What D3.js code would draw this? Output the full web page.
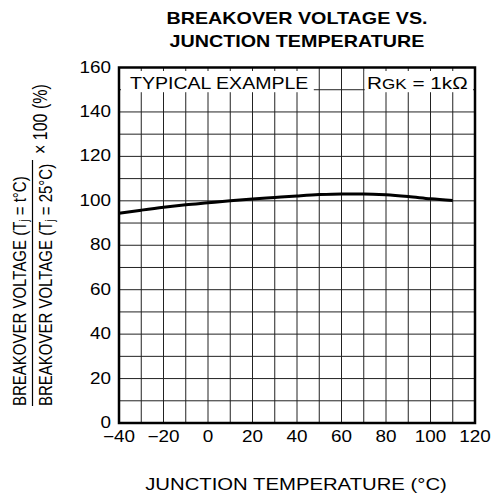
<!DOCTYPE html>
<html><head><meta charset="utf-8">
<script src="https://cdn.jsdelivr.net/npm/d3@7"></script>
<style>
html,body{margin:0;padding:0;background:#fff;}
text{font-family:"Liberation Sans",Arial,Helvetica,sans-serif;fill:#000;}
</style></head>
<body>
<svg id="chart" width="493" height="496"></svg>
<script>
// ---- data ----
const temperatures = [-40,-30,-20,-10,0,10,20,30,40,50,60,70,80,90,100,110];
const breakoverPct = [94.4,95.8,97.1,98.2,99.1,100.0,100.8,101.5,102.2,102.8,103.1,103.1,102.7,101.9,100.9,100.1];
const xTicks = [-40,-20,0,20,40,60,80,100,120];
const yTicks = [0,20,40,60,80,100,120,140,160];
const xGrid = d3.range(-40,121,10);
const yGrid = d3.range(0,161,10);
const titleLines = ["BREAKOVER VOLTAGE VS.","JUNCTION TEMPERATURE"];
const xTitle = "JUNCTION TEMPERATURE  (°C)";
const legendLeft = "TYPICAL EXAMPLE";

const svg = d3.select("#chart");
const L=119, R=475, T=67.5, B=423;
const x = d3.scaleLinear().domain([-40,120]).range([L,R]);
const y = d3.scaleLinear().domain([0,160]).range([B,T]);

function stext(g, px, py, sx, txt, size, anchor, weight){
  const t = g.append("text")
    .attr("transform",`translate(${px},${py}) scale(${sx},1)`)
    .attr("text-anchor",anchor||"middle")
    .style("font-size",size+"px")
    .style("font-weight",weight||"normal")
    .text(txt);
  return t;
}

// grid
const grid = svg.append("g").attr("stroke","#222").attr("stroke-width",1);
grid.selectAll("line.v").data(xGrid).join("line")
  .attr("x1",d=>x(d)).attr("x2",d=>x(d)).attr("y1",T).attr("y2",B);
grid.selectAll("line.h").data(yGrid).join("line")
  .attr("y1",d=>y(d)).attr("y2",d=>y(d)).attr("x1",L).attr("x2",R);

// legend boxes (white background covering top row)
const leg = svg.append("g");
leg.append("rect").attr("x",L+2).attr("y",T+3.5).attr("width",x(48)-L-2-1).attr("height",y(150)-T-1).attr("fill","#fff");
leg.append("rect").attr("x",x(70)+1).attr("y",T+3.5).attr("width",R-x(70)-3).attr("height",y(150)-T-1).attr("fill","#fff");
stext(leg, 130, 89, 1.15, legendLeft, 17, "start");
const rg = leg.append("text")
  .attr("transform",`translate(367,89) scale(1.22,1)`)
  .attr("text-anchor","start").style("font-size","17px");
rg.append("tspan").text("R");
rg.append("tspan").style("font-size","14px").text("GK");
rg.append("tspan").text(" = 1kΩ");

// curve
const line = d3.line().x(d=>x(d[0])).y(d=>y(d[1])).curve(d3.curveMonotoneX);
svg.append("path").datum(temperatures.map((t,i)=>[t,breakoverPct[i]]))
  .attr("d",line).attr("fill","none").attr("stroke","#000").attr("stroke-width",3);

// frame
svg.append("rect").attr("x",L).attr("y",T).attr("width",R-L).attr("height",B-T)
  .attr("fill","none").attr("stroke","#000").attr("stroke-width",2.5);

// tick labels
const tl = svg.append("g");
xTicks.forEach(v=>{
  stext(tl, x(v), 442, 1.18, v<0 ? "\u2212"+Math.abs(v) : String(v), 16, "middle");
});
yTicks.forEach(v=>{
  stext(tl, 111, y(v)+5, 1.18, String(v), 16, "end");
});

// title
titleLines.forEach((s,i)=>{
  stext(svg, 297, 24+i*23, 1.16, s, 17, "middle", "bold");
});

// x title
stext(svg, 296, 490, 1.27, xTitle, 16, "middle");

// y label (rotated fraction)
const yl = svg.append("g");
function rtext(px, py, anchor, size){
  const t = yl.append("text").attr("transform",`translate(${px},${py}) scale(1.22,1) rotate(-90)`)
    .attr("text-anchor",anchor).style("font-size",(size||15)+"px");
  return t;
}
const num = rtext(26, 406, "start");
num.append("tspan").text("BREAKOVER VOLTAGE (T");
num.append("tspan").attr("dy",2).style("font-size","10px").text("j");
num.append("tspan").attr("dy",-2).text(" = t°C)");
const den = rtext(52, 406, "start");
den.append("tspan").text("BREAKOVER VOLTAGE (T");
den.append("tspan").attr("dy",2).style("font-size","10px").text("j");
den.append("tspan").attr("dy",-2).text(" = 25°C)");
yl.append("line").attr("x1",32.5).attr("x2",32.5).attr("y1",406).attr("y2",160)
  .attr("stroke","#000").attr("stroke-width",1.2);
const pct = rtext(47, 154, "start", 16);
pct.text("× 100 (%)");
</script>
</body></html>
